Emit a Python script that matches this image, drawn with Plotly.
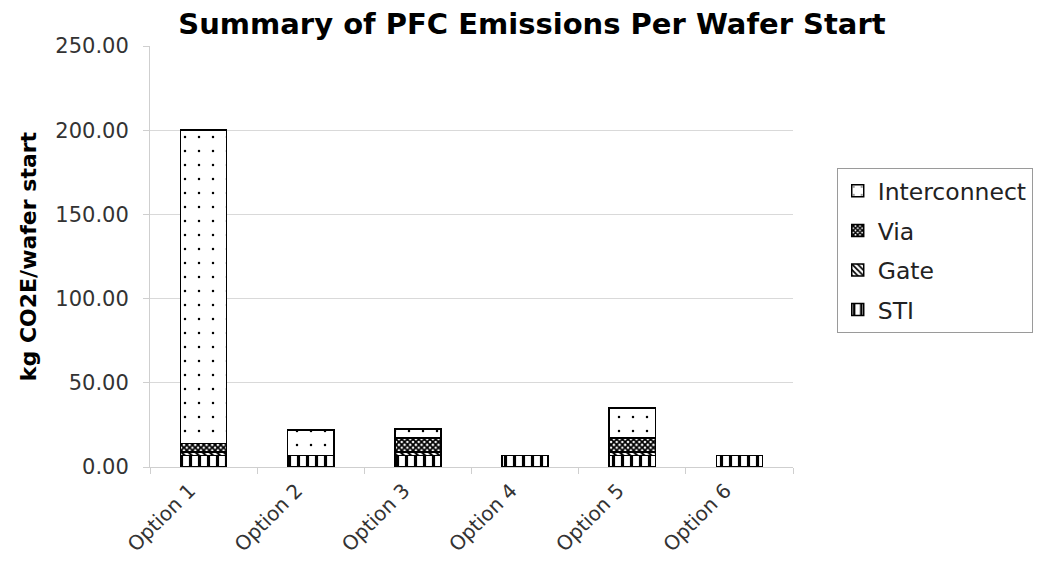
import plotly.graph_objects as go

# Process options on the x axis
options = ["Option 1", "Option 2", "Option 3", "Option 4", "Option 5", "Option 6"]

# PFC emissions per wafer start (kg CO2E), one list per process step
sti = [6.8, 6.8, 6.8, 6.8, 6.8, 6.8]
gate = [2.2, 0.0, 2.0, 0.0, 2.0, 0.0]
via = [5.0, 0.0, 8.3, 0.0, 8.3, 0.0]
interconnect = [186.0, 15.2, 5.5, 0.0, 17.9, 0.0]

y_ticks = [0, 50, 100, 150, 200, 250]

FONT = "DejaVu Sans"

# (name, values, fill pattern, legend rank) - stacked bottom to top
series = [
    ("STI", sti, dict(shape="|", size=9, solidity=0.35), 4),
    ("Gate", gate, dict(shape="\\", size=5, solidity=0.45), 3),
    ("Via", via, dict(shape="x", size=4, solidity=0.7), 2),
    ("Interconnect", interconnect, dict(shape=".", size=14, solidity=0.025), 1),
]

fig = go.Figure()
for name, values, pat, rank in series:
    fig.add_trace(go.Bar(
        name=name,
        x=options,
        y=values,
        legendgroup=name,
        legendrank=rank,
        marker=dict(
            color="white",
            line=dict(color="black", width=1.5),
            pattern=dict(fgcolor="black", bgcolor="white", fgopacity=1,
                         fillmode="overlay", **pat),
        ),
    ))

fig.update_layout(
    barmode="stack",
    bargap=0.57,
    width=1039,
    height=565,
    margin=dict(l=150, r=246, t=46, b=98, autoexpand=False),
    paper_bgcolor="white",
    plot_bgcolor="white",
    font=dict(family=FONT, color="#222222", size=20),
    title=dict(
        text="<b>Summary of PFC Emissions Per Wafer Start</b>",
        x=0.512, xanchor="center", y=0.957, yanchor="middle",
        font=dict(family=FONT, size=29, color="black"),
    ),
    legend=dict(
        x=1.068, xanchor="left", y=0.71, yanchor="top",
        traceorder="grouped",
        tracegroupgap=6,
        bordercolor="#9a9a9a", borderwidth=1,
        font=dict(family=FONT, size=23.5, color="#222222"),
        itemwidth=30,
    ),
)

fig.update_yaxes(
    range=[0, 250],
    tickvals=y_ticks,
    tickformat=".2f",
    automargin=False,
    showgrid=True, gridcolor="#d9d9d9", gridwidth=1,
    showline=True, linecolor="#cfcfcf", linewidth=1,
    ticks="outside", ticklen=6, tickcolor="#cfcfcf",
    ticklabelstandoff=10,
    tickfont=dict(family=FONT, size=21, color="#333333"),
    title=dict(text="<b>kg CO2E/wafer start</b>", standoff=12,
               font=dict(family=FONT, size=22, color="black")),
    zeroline=False,
)
fig.update_xaxes(
    automargin=False,
    showline=True, linecolor="#cfcfcf", linewidth=1,
    ticks="outside", ticklen=6, tickcolor="#cfcfcf",
    tickson="boundaries",
    tickangle=-45,
    ticklabelshift=-14,
    ticklabelstandoff=3,
    tickfont=dict(family=FONT, size=20, color="#333333"),
)

fig.write_html("out.html")
